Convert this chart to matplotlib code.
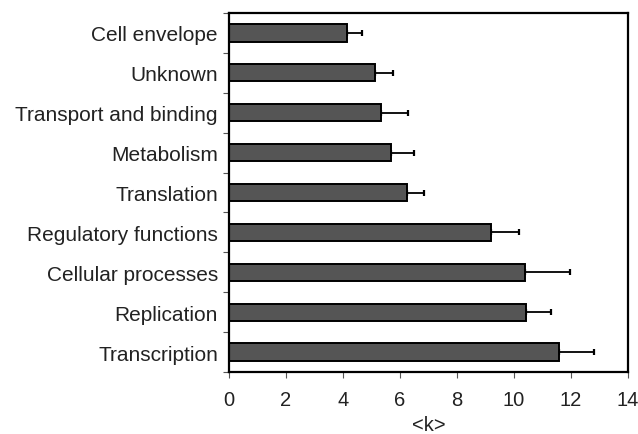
import matplotlib
matplotlib.use("Agg")
import matplotlib.pyplot as plt
import numpy as np

categories = ["Cell envelope", "Unknown", "Transport and binding", "Metabolism",
              "Translation", "Regulatory functions", "Cellular processes",
              "Replication", "Transcription"]
values = [4.14, 5.12, 5.32, 5.70, 6.26, 9.19, 10.40, 10.41, 11.58]
errors = [0.53, 0.64, 0.96, 0.79, 0.57, 1.00, 1.55, 0.89, 1.23]
xticks = [0, 2, 4, 6, 8, 10, 12, 14]

plt.rcParams['font.family'] = ['Liberation Sans', 'DejaVu Sans']

fig = plt.figure(figsize=(6.38, 4.35), dpi=100)
ax = fig.add_axes([229/638, 1 - 373/435, (628-229)/638, (373-14)/435])

y = np.arange(len(categories))
ax.barh(y, values, height=0.43, color='#555555', edgecolor='black', linewidth=1.4, zorder=2)
ax.errorbar(values, y, xerr=[np.zeros(len(errors)), errors], fmt='none',
            ecolor='black', elinewidth=1.3, capsize=2.5, capthick=1.6, zorder=1)
ax.set_ylim(len(categories) - 0.5, -0.5)
ax.set_xlim(0, 14)
ax.set_xticks(xticks)
ax.set_xticklabels([str(t) for t in xticks], fontsize=14.5, color='#222222')
ax.set_yticks(y)
ax.set_yticklabels(categories, fontsize=15, color='#222222')
ax.tick_params(axis='y', which='major', length=0, pad=8)
ax.set_yticks(np.arange(-0.5, len(categories) + 0.5, 1), minor=True)
ax.tick_params(axis='y', which='minor', length=4, width=0.8, direction='out', color='#555555')
ax.tick_params(axis='x', length=4, width=0.8, direction='out', pad=9, color='#555555')
ax.set_xlabel("<k>", fontsize=14.5, labelpad=4, color='#222222')
for s in ax.spines.values():
    s.set_linewidth(1.6)

fig.savefig("out.png", dpi=100)
